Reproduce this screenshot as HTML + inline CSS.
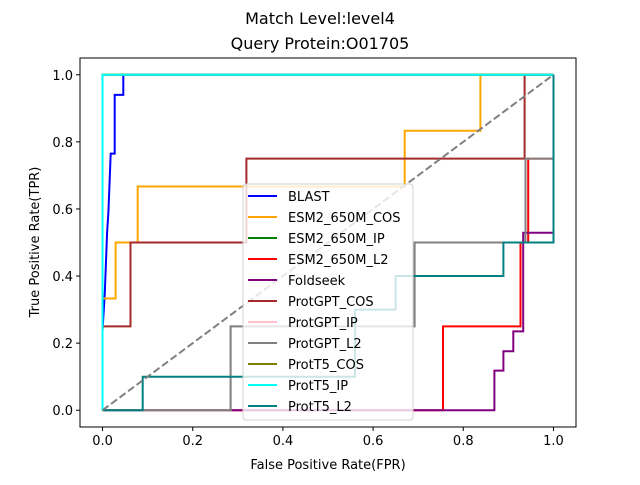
<!DOCTYPE html>
<html><head><meta charset="utf-8"><style>
body{margin:0;background:#fff}
svg text{font-family:"DejaVu Sans","Liberation Sans",sans-serif;fill:#000}
</style></head><body>
<svg id="chart" width="640" height="480" xmlns="http://www.w3.org/2000/svg">
<rect width="640" height="480" fill="#fff"/>
<text x="320" y="24" font-size="16" text-anchor="middle">Match Level:level4</text>
<text x="320" y="49" font-size="16" text-anchor="middle">Query Protein:O01705</text>
<g id="series"></g>
<line id="diag" stroke="#808080" stroke-width="2" stroke-dasharray="7.4,3.2"/>
<g id="axes"></g>
<rect x="80" y="58" width="496" height="369" fill="none" stroke="#000" stroke-width="1"/>
<text x="328" y="469" font-size="13" text-anchor="middle">False Positive Rate(FPR)</text>
<text transform="translate(39,242) rotate(-90)" font-size="13" text-anchor="middle">True Positive Rate(TPR)</text>
<g id="legend"></g>
</svg>
<script>
const seriesNames=["BLAST","ESM2_650M_COS","ESM2_650M_IP","ESM2_650M_L2","Foldseek","ProtGPT_COS","ProtGPT_IP","ProtGPT_L2","ProtT5_COS","ProtT5_IP","ProtT5_L2"];
const seriesColors=["blue","orange","green","red","purple","brown","pink","gray","olive","cyan","teal"];
const fprBLAST=[0,0,0.005,0.01,0.013,0.018,0.027,0.027,0.046,0.046,1];
const tprBLAST=[0,0.235,0.35,0.53,0.59,0.765,0.765,0.94,0.94,1,1];
const fprESMCOS=[0,0,0.029,0.029,0.078,0.078,0.67,0.67,0.838,0.838,1];
const tprESMCOS=[0,0.333,0.333,0.5,0.5,0.667,0.667,0.833,0.833,1,1];
const fprESMIP=[0,0,1];
const tprESMIP=[0,1,1];
const fprESML2=[0,0.755,0.755,0.927,0.927,0.944,0.944,1,1];
const tprESML2=[0,0,0.25,0.25,0.5,0.5,0.75,0.75,1];
const fprFold=[0,0.869,0.869,0.889,0.889,0.911,0.911,0.933,0.933,1,1];
const tprFold=[0,0,0.118,0.118,0.176,0.176,0.235,0.235,0.529,0.529,1];
const fprGPTCOS=[0,0,0.062,0.062,0.319,0.319,0.936,0.936,1];
const tprGPTCOS=[0,0.25,0.25,0.5,0.5,0.75,0.75,1,1];
const fprGPTIP=[0,0.284,0.284,0.692,0.692,0.938,0.938,1,1];
const tprGPTIP=[0,0,0.25,0.25,0.5,0.5,0.75,0.75,1];
const fprGPTL2=[0,0.284,0.284,0.692,0.692,0.938,0.938,1,1];
const tprGPTL2=[0,0,0.25,0.25,0.5,0.5,0.75,0.75,1];
const fprT5COS=[0,0,1];
const tprT5COS=[0,1,1];
const fprT5IP=[0,0,1];
const tprT5IP=[0,1,1];
const fprT5L2=[0,0.089,0.089,0.56,0.56,0.65,0.65,0.889,0.889,1,1];
const tprT5L2=[0,0,0.1,0.1,0.3,0.3,0.4,0.4,0.5,0.5,1];
const xTicks=[0,0.2,0.4,0.6,0.8,1.0];
const yTicks=[0,0.2,0.4,0.6,0.8,1.0];
const tickLabels=["0.0","0.2","0.4","0.6","0.8","1.0"];
const fprs=[fprBLAST,fprESMCOS,fprESMIP,fprESML2,fprFold,fprGPTCOS,fprGPTIP,fprGPTL2,fprT5COS,fprT5IP,fprT5L2];
const tprs=[tprBLAST,tprESMCOS,tprESMIP,tprESML2,tprFold,tprGPTCOS,tprGPTIP,tprGPTL2,tprT5COS,tprT5IP,tprT5L2];
const L=80,R=576,T=58,B=427;
const sx=v=>L+(v+0.05)/1.1*(R-L);
const sy=v=>B-(v+0.05)/1.1*(B-T);
const NS="http://www.w3.org/2000/svg";
const sg=document.getElementById('series');
fprs.forEach((fx,i)=>{
  const p=document.createElementNS(NS,'polyline');
  p.setAttribute('points',fx.map((x,j)=>sx(x).toFixed(1)+','+sy(tprs[i][j]).toFixed(1)).join(' '));
  p.setAttribute('fill','none');p.setAttribute('stroke',seriesColors[i]);p.setAttribute('stroke-width','2');
  
  
  sg.appendChild(p);
});
const d=document.getElementById('diag');
d.setAttribute('x1',sx(0));d.setAttribute('y1',sy(0));d.setAttribute('x2',sx(1));d.setAttribute('y2',sy(1));
const ax=document.getElementById('axes');
xTicks.forEach((v,i)=>{
  const l=document.createElementNS(NS,'line');
  l.setAttribute('x1',sx(v));l.setAttribute('x2',sx(v));l.setAttribute('y1',B);l.setAttribute('y2',B+4);l.setAttribute('stroke','#000');
  
  
  ax.appendChild(l);
  const t=document.createElementNS(NS,'text');
  t.setAttribute('x',sx(v));t.setAttribute('y',B+18);t.setAttribute('font-size','13');t.setAttribute('text-anchor','middle');
  t.textContent=tickLabels[i];
  
  
  ax.appendChild(t);
});
yTicks.forEach((v,i)=>{
  const l=document.createElementNS(NS,'line');
  l.setAttribute('x1',L-4);l.setAttribute('x2',L);l.setAttribute('y1',sy(v));l.setAttribute('y2',sy(v));l.setAttribute('stroke','#000');
  
  
  ax.appendChild(l);
  const t=document.createElementNS(NS,'text');
  t.setAttribute('x',L-7);t.setAttribute('y',sy(v)+5);t.setAttribute('font-size','13');t.setAttribute('text-anchor','end');
  t.textContent=tickLabels[i];
  
  
  ax.appendChild(t);
});
const lg=document.getElementById('legend');
const box=document.createElementNS(NS,'rect');
box.setAttribute('x',243);box.setAttribute('y',184);box.setAttribute('width',170);box.setAttribute('height',236);box.setAttribute('rx',3);
box.setAttribute('fill','rgba(255,255,255,0.8)');box.setAttribute('stroke','#d0d0d0');


lg.appendChild(box);
seriesNames.forEach((n,i)=>{
  const y=196+i*21;
  const l=document.createElementNS(NS,'line');
  l.setAttribute('x1',248);l.setAttribute('x2',277);l.setAttribute('y1',y);l.setAttribute('y2',y);
  l.setAttribute('stroke',seriesColors[i]);l.setAttribute('stroke-width','2');
  
  
  lg.appendChild(l);
  const t=document.createElementNS(NS,'text');
  t.setAttribute('x',288);t.setAttribute('y',y+5);t.setAttribute('font-size','13');
  t.textContent=n;
  
  
  lg.appendChild(t);
});
</script>
</body></html>
